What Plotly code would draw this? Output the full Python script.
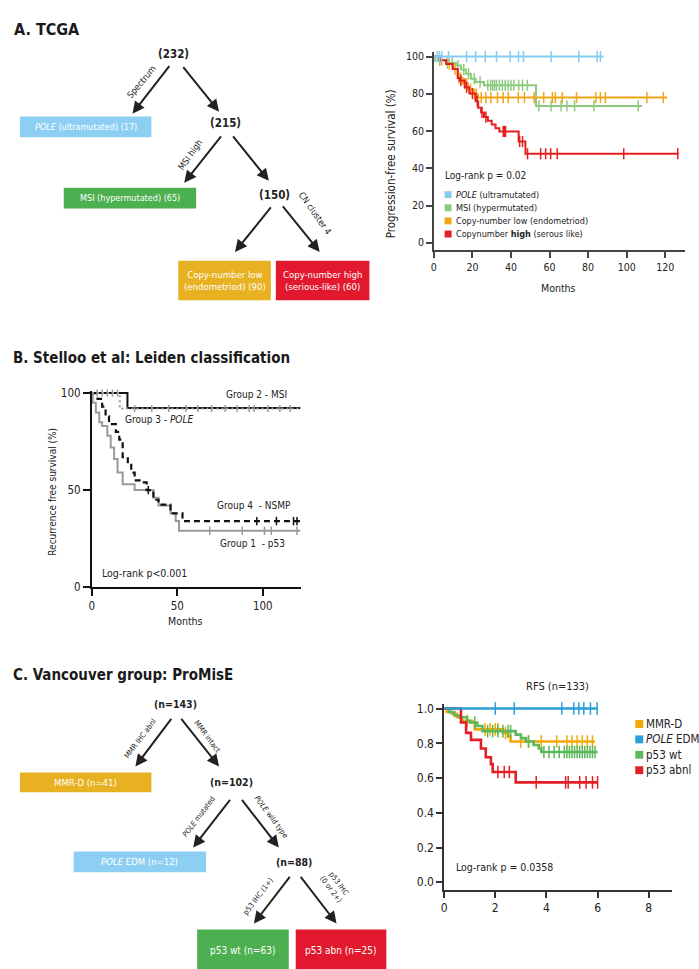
import numpy as np
import plotly.graph_objects as go

W, H = 699, 969
FONT = "DejaVu Sans Condensed, Liberation Sans Narrow, Roboto, sans-serif"

def X(px):
    return px / W

def Y(py):
    return 1 - py / H

# ---------------- DATA ----------------
# Panel A: TCGA progression-free survival (%), months
A_names = ["<i>POLE</i> (ultramutated)", "MSI (hypermutated)",
           "Copy-number low (endometriod)", "Copynumber <b>high</b> (serous like)"]
A_colors = ["#86CBF0", "#8CCB7E", "#F2A516", "#E3201F"]
A_pole_t = [0, 88]
A_pole_s = [100, 100]
A_pole_c = [1.7, 2.9, 4.1, 7.6, 17, 21.7, 26.7, 32.5, 39.6, 43.9, 46.5, 60.8, 75.2, 84.7, 86.4]
A_msi_t = [0, 0.3, 6.4, 11.5, 14.1, 16.6, 19.2, 21.7, 26, 53, 108]
A_msi_s = [100, 97.9, 96.5, 95.2, 93, 90.8, 88.1, 86.4, 84.6, 73.5, 73.5]
A_msi_c = [3, 7, 9.5, 12.5, 15.5, 18, 21, 24, 28, 29.5, 30.5, 31.5, 32.5, 34, 35.5, 37,
           38.5, 40, 41.5, 44, 46, 48.5, 54.5, 60.8, 66, 69, 73, 83, 106]
A_low_t = [0, 2.9, 6.4, 9.8, 12.4, 15, 17.6, 20.2, 22.8, 121]
A_low_s = [100, 98, 96, 93.3, 88.5, 85.5, 82.5, 79.8, 78, 78]
A_low_c = [4, 8, 11, 13, 14, 16, 17, 19, 21, 22, 24.6, 27, 29.6, 33, 36, 38.6, 43.8, 47,
           52, 57, 61.5, 63, 66.6, 74, 84, 86.4, 89, 110.5, 119]
A_high_t = [0, 2.9, 6.4, 9.8, 12.4, 13.3, 16, 18.4, 21.7, 23, 24.5, 26, 28, 30, 32, 34, 44, 47.5, 127]
A_high_s = [100, 98, 96, 93.3, 88.5, 87.2, 83.5, 80.2, 76, 72.5, 70, 67.5, 65.5, 63.5, 61.5,
            59.8, 54.4, 47.8, 47.8]
A_high_c = [14, 17, 20, 22.5, 25, 27, 36, 36.6, 37.2, 44.5, 46, 48.6, 55.4, 58, 60.6, 64, 98.5, 126.5]

# Panel B: Leiden classification recurrence free survival (%)
B_msi_t = [0, 20.8, 122]
B_msi_s = [100, 92.3, 92.3]
B_pole_t = [0, 16.3, 122]
B_pole_s = [100, 92, 92]
B_pole_c = [3, 6, 9, 12, 15, 25, 35, 45, 55, 62, 70, 78, 85, 92, 95, 103, 110, 116]
B_nsmp_t = [0, 3.3, 6, 8, 10, 14, 16, 18, 21, 23, 25, 29.5, 32, 36, 39, 46, 53, 122]
B_nsmp_s = [100, 97, 93, 88, 84, 80, 76, 67, 63, 59, 55, 54, 50, 45, 42.5, 38, 34, 34]
B_nsmp_c = [33, 96.5, 108, 118, 120]
B_p53_t = [0, 0.5, 2.3, 4.3, 6, 9, 11, 13, 15, 18, 25, 36, 39, 46, 49, 51, 122]
B_p53_s = [100, 95, 90, 85, 83, 78, 72, 66, 59, 53, 50, 46, 42, 38, 34, 29, 29]
B_p53_c = [69, 88, 101, 105, 120]

# Panel C: ProMisE RFS (years)
C_names = ["MMR-D", "<i>POLE</i> EDM", "p53 wt", "p53 abnl"]
C_colors = ["#F2A900", "#2B9FD9", "#5DB85B", "#E31E26"]
C_mmrd_t = [0, 0.1, 0.3, 0.5, 0.7, 1.1, 1.2, 2.3, 2.5, 2.6, 5.9]
C_mmrd_s = [1, 0.98, 0.97, 0.95, 0.93, 0.92, 0.88, 0.86, 0.84, 0.81, 0.81]
C_mmrd_c = [0.9, 1.6, 1.8, 2.0, 2.1, 2.4, 3.0, 3.3, 3.8, 4.4, 4.8, 5.0, 5.2, 5.4, 5.6, 5.8]
C_pole_t = [0, 6.0]
C_pole_s = [1, 1]
C_pole_c = [2.0, 2.74, 4.6, 5.07, 5.27, 5.46, 5.72, 5.98]
C_wt_t = [0, 0.2, 0.4, 0.6, 0.9, 1.0, 1.3, 1.5, 2.8, 3.0, 3.2, 3.5, 3.7, 3.8, 6.0]
C_wt_s = [1, 0.98, 0.96, 0.95, 0.93, 0.92, 0.9, 0.87, 0.85, 0.83, 0.81, 0.79, 0.77, 0.75, 0.75]
C_wt_c = [1.2, 1.7, 1.9, 2.1, 2.3, 2.5, 2.6, 3.3, 3.9, 4.1, 4.3, 4.5, 4.7, 4.8, 4.9, 5.0,
          5.1, 5.2, 5.3, 5.4, 5.5, 5.6, 5.7, 5.8, 5.9]
C_abn_t = [0, 0.66, 0.86, 1.05, 1.44, 1.63, 1.83, 1.9, 2.8, 6.0]
C_abn_s = [1, 0.92, 0.86, 0.82, 0.77, 0.72, 0.68, 0.635, 0.575, 0.575]
C_abn_c = [2.1, 2.35, 2.55, 3.6, 4.75, 4.85, 5.3, 5.55, 5.8, 6.0]

# Tree labels
A_nodes = ["(232)", "(215)", "(150)"]
A_edges = ["Spectrum", "MSI high", "CN cluster 4"]
A_leaves = ["<i>POLE</i> (ultramutated) (17)", "MSI (hypermutated) (65)",
            "Copy-number low<br>(endometriod) (90)", "Copy-number high<br>(serious-like) (60)"]
C_nodes = ["(n=143)", "(n=102)", "(n=88)"]
C_edges = ["MMR IHC abnl", "MMR intact", "<i>POLE</i> mutated", "<i>POLE</i> wild type",
           "p53 IHC (1+)", "p53 IHC<br>(0 or 2+)"]
C_leaves = ["MMR-D (n=41)", "<i>POLE</i> EDM (n=12)", "p53 wt (n=63)", "p53 abn (n=25)"]
BOX_COLORS = {"blue": "#8DCFF2", "green": "#4DB050", "gold": "#E8B122", "red": "#E2192E"}

# ---------------- FIGURE ----------------
fig = go.Figure()

def km(t, s, color, xa, ya, width=2, dash="solid", cens=None, csize=8, cwidth=1.5):
    fig.add_trace(go.Scatter(x=t, y=s, mode="lines", line=dict(color=color, width=width, dash=dash, shape="hv"),
                             xaxis=xa, yaxis=ya, showlegend=False, hoverinfo="skip"))
    if cens:
        t_arr = np.array(t, dtype=float)
        idx = np.searchsorted(t_arr, np.array(cens, dtype=float), side="right") - 1
        cy = [s[i] for i in idx]
        fig.add_trace(go.Scatter(x=cens, y=cy, mode="markers", cliponaxis=False,
                                 marker=dict(symbol="line-ns-open", size=csize, color=color,
                                             line=dict(color=color, width=cwidth)),
                                 xaxis=xa, yaxis=ya, showlegend=False, hoverinfo="skip"))

# Panel A curves
km(A_msi_t, A_msi_s, A_colors[1], "x", "y", 2, cens=A_msi_c)
km(A_low_t, A_low_s, A_colors[2], "x", "y", 2, cens=A_low_c)
km(A_high_t, A_high_s, A_colors[3], "x", "y", 2, cens=A_high_c)
km(A_pole_t, A_pole_s, A_colors[0], "x", "y", 2, cens=A_pole_c)

# Panel B curves
GREY = "#9A9A9A"
km(B_p53_t, B_p53_s, GREY, "x2", "y2", 2, cens=B_p53_c, csize=6)
km(B_nsmp_t, B_nsmp_s, "#111111", "x2", "y2", 2.2, dash="6px,4px", cens=B_nsmp_c, csize=6)
km(B_msi_t, B_msi_s, "#111111", "x2", "y2", 2)
km(B_pole_t, B_pole_s, GREY, "x2", "y2", 2, dash="2px,3px", cens=B_pole_c, csize=5)

# Panel C curves
km(C_mmrd_t, C_mmrd_s, C_colors[0], "x3", "y3", 2.6, cens=C_mmrd_c, csize=9)
km(C_wt_t, C_wt_s, C_colors[2], "x3", "y3", 2.6, cens=C_wt_c, csize=9)
km(C_abn_t, C_abn_s, C_colors[3], "x3", "y3", 2.6, cens=C_abn_c, csize=9)
km(C_pole_t, C_pole_s, C_colors[1], "x3", "y3", 2.6, cens=C_pole_c, csize=9)

def axstyle(color="#333", lw=1.5, size=11, tl=6):
    return dict(showline=True, linecolor=color, linewidth=lw, ticks="outside", ticklen=tl,
                tickwidth=lw, tickcolor=color, showgrid=False, zeroline=False,
                tickfont=dict(family=FONT, size=size, color="#222"), fixedrange=True)

fig.update_layout(
    width=W, height=H, autosize=False, margin=dict(l=0, r=0, t=0, b=0),
    paper_bgcolor="white", plot_bgcolor="white", showlegend=False,
    xaxis=dict(domain=[X(432.7), X(685)], range=[0, 130.3], tickvals=[0, 20, 40, 60, 80, 100, 120],
               anchor="y", **axstyle("#444", 1.5, 10.5, 6)),
    yaxis=dict(domain=[Y(248.3), Y(47.5)], range=[-4, 102.5], tickvals=[0, 20, 40, 60, 80, 100],
               anchor="x", **axstyle("#444", 1.5, 10.5, 6)),
    xaxis2=dict(domain=[X(89.3), X(299)], range=[0, 122.2], tickvals=[0, 50, 100],
                anchor="y2", **axstyle("#111", 2, 11.5, 7)),
    yaxis2=dict(domain=[Y(589.3), Y(391)], range=[0, 101], tickvals=[0, 50, 100],
                anchor="x2", **axstyle("#111", 2, 11.5, 7)),
    xaxis3=dict(domain=[X(443), X(671.7)], range=[0, 8.9], tickvals=[0, 2, 4, 6, 8],
                anchor="y3", **axstyle("#333", 1.5, 12, 6)),
    yaxis3=dict(domain=[Y(896), Y(708)], range=[-0.044, 1.025], tickvals=[0, 0.2, 0.4, 0.6, 0.8, 1.0],
                tickformat=".1f", anchor="x3", **axstyle("#333", 1.5, 12, 6)),
)

annotations = []
shapes = []

def ann(text, px, py, size=11, color="#222", angle=0, xanchor="center"):
    annotations.append(dict(text=text, x=X(px), y=Y(py), xref="paper", yref="paper", showarrow=False,
                            font=dict(size=size, color=color, family=FONT), textangle=angle,
                            xanchor=xanchor, yanchor="middle", borderpad=0))

def arrow(tx, ty, hx, hy):
    annotations.append(dict(text="", x=X(hx), y=Y(hy), xref="paper", yref="paper",
                            ax=tx - hx, ay=ty - hy, axref="pixel", ayref="pixel", showarrow=True,
                            arrowhead=2, arrowsize=1.2, arrowwidth=2, arrowcolor="#222"))

def box(x0, x1, y0, y1, color, text, size=9, ty=None):
    shapes.append(dict(type="rect", xref="paper", yref="paper", x0=X(x0), x1=X(x1), y0=Y(y1), y1=Y(y0),
                       fillcolor=color, line=dict(width=0), layer="below"))
    ann(text, (x0 + x1) / 2, ty if ty is not None else (y0 + y1) / 2, size=size, color="white")

# Panel titles
ann("<b>A. TCGA</b>", 10, 25, size=16, color="#1a1a1a", xanchor="left")
ann("<b>B. Stelloo et al: Leiden classification</b>", 9, 357, size=15, color="#1a1a1a", xanchor="left")
ann("<b>C. Vancouver group: ProMisE</b>", 9, 678, size=15, color="#1a1a1a", xanchor="left")

# Tree A
ann("<b>" + A_nodes[0] + "</b>", 171, 50, size=11.5)
ann("<b>" + A_nodes[1] + "</b>", 223, 119, size=11.5)
ann("<b>" + A_nodes[2] + "</b>", 273, 192, size=11.5)
arrow(168, 61, 130, 110)
arrow(180, 62, 217, 108)
arrow(220, 132, 182, 180)
arrow(230, 132, 267, 178)
arrow(270, 204, 233, 250)
arrow(280, 203, 318, 250)
ann(A_edges[0], 139, 78, size=9, angle=-50)
ann(A_edges[1], 188, 152, size=9, angle=-55)
ann(A_edges[2], 313, 211, size=9, angle=55)
box(17, 149, 113, 134, BOX_COLORS["blue"], A_leaves[0], size=9)
box(61, 194, 185, 206, BOX_COLORS["green"], A_leaves[1], size=9)
box(176, 269, 259, 299, BOX_COLORS["gold"], A_leaves[2], size=9.5)
box(274, 368, 259, 299, BOX_COLORS["red"], A_leaves[3], size=9.5)

# Tree C
ann("<b>" + C_nodes[0] + "</b>", 173, 708, size=10.5)
ann("<b>" + C_nodes[1] + "</b>", 229, 787, size=10.5)
ann("<b>" + C_nodes[2] + "</b>", 292, 868, size=10.5)
arrow(170, 722, 133, 771)
arrow(178, 722, 217, 771)
arrow(229, 804, 191, 853)
arrow(239, 804, 277, 853)
arrow(289, 882, 252, 930)
arrow(298, 882, 335, 930)
ann(C_edges[0], 138, 743, size=7.5, angle=-53)
ann(C_edges[1], 205, 741, size=7.5, angle=53)
ann(C_edges[2], 197, 822, size=7.5, angle=-53)
ann(C_edges[3], 269, 822, size=7.5, angle=53)
ann(C_edges[4], 257, 902, size=7.5, angle=-53)
ann(C_edges[5], 333, 893, size=7.5, angle=53)
box(17, 149, 777, 797, BOX_COLORS["gold"], C_leaves[0], size=9.5)
box(71, 204, 857, 878, BOX_COLORS["blue"], C_leaves[1], size=9.5)
box(195, 287, 936, 985, BOX_COLORS["green"], C_leaves[2], size=10, ty=957)
box(294, 385, 936, 985, BOX_COLORS["red"], C_leaves[3], size=10, ty=957)

# Panel A texts and legend
ann("Progression-free survival (%)", 390, 161, size=11.5, angle=-90)
ann("Months", 558, 287, size=10.5)
ann("Log-rank p = 0.02", 443, 173, size=10, xanchor="left")
for i, (nm, col) in enumerate(zip(A_names, A_colors)):
    yy = 192 + i * 13.3
    shapes.append(dict(type="rect", xref="paper", yref="paper", x0=X(443.5), x1=X(450.5),
                       y0=Y(yy + 3.5), y1=Y(yy - 3.5), fillcolor=col, line=dict(width=0)))
    ann(nm, 454, yy, size=9, xanchor="left")

# Panel B texts
ann("Recurrence free survival (%)", 50, 493, size=10, angle=-90)
ann("Months", 183, 624, size=10.5)
ann("Group 2 - MSI", 255, 394, size=10)
ann("Group 3 - <i>POLE</i>", 157, 420, size=10)
ann("Group 4  - NSMP", 252, 507, size=10)
ann("Group 1  - p53", 251, 545, size=10)
ann("Log-rank p<0.001", 142, 575, size=10.5)

# Panel C texts and legend
ann("RFS (n=133)", 557, 690, size=11)
ann("Log-rank p = 0.0358", 504, 873, size=10.5)
for i, (nm, col) in enumerate(zip(C_names, C_colors)):
    yy = 728 + i * 15.6
    shapes.append(dict(type="rect", xref="paper", yref="paper", x0=X(635), x1=X(643),
                       y0=Y(yy + 4), y1=Y(yy - 4), fillcolor=col, line=dict(width=0)))
    ann(nm, 645, yy, size=11.5, xanchor="left")

fig.update_layout(annotations=annotations, shapes=shapes)
fig.write_html("out.html", config={"displayModeBar": False},
               post_script="document.body.style.margin='0px';document.body.style.overflow='hidden';")
